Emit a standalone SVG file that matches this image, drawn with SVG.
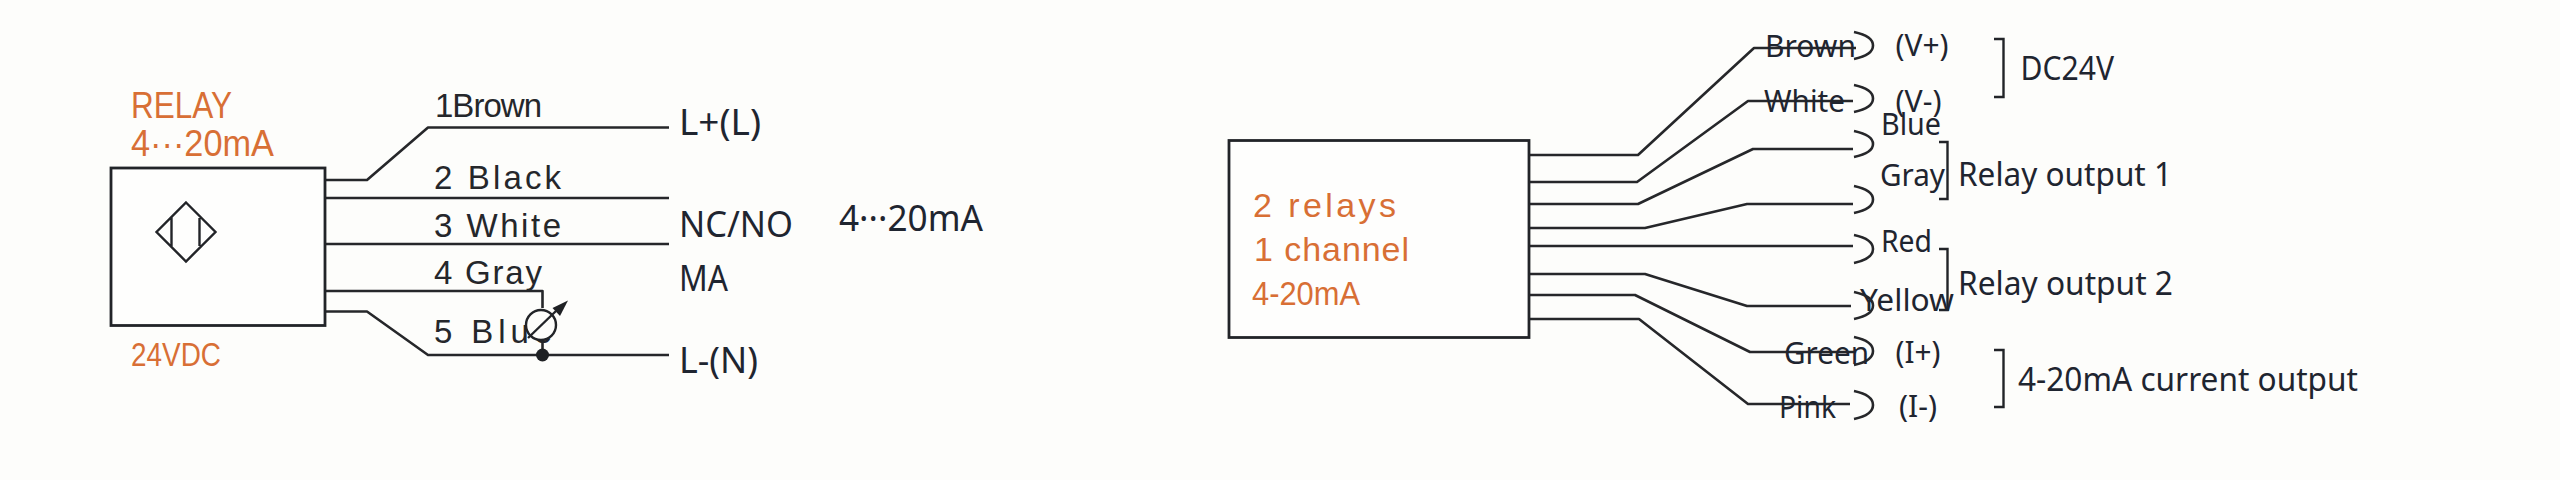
<svg xmlns="http://www.w3.org/2000/svg" width="2560" height="480" viewBox="0 0 2560 480">
<style>
.bg{fill:#fdfdfb}
.box{fill:#fefefd;stroke:#222428;stroke-width:2.8}
.w{fill:none;stroke:#26272a;stroke-width:2.6;stroke-linejoin:round}
.thin{fill:none;stroke:#222428;stroke-width:2.4}
text{font-family:"Noto Sans","Liberation Sans",sans-serif;fill:#1f2530}
.o{fill:#d86f35;font-family:"Liberation Sans",sans-serif}
.lbl{font-family:"Liberation Sans",sans-serif;font-size:33px;fill:#25272b}
.big{font-size:37px}
.r{font-size:30px}
.rr{font-size:32px}
</style>
<rect class="bg" width="2560" height="480"/>
<g id="connectors">
<path class="w" d="M325 180H367L428 127.500H669"/>
<path class="w" d="M325 198H669"/>
<path class="w" d="M325 244H669"/>
<path class="w" d="M325 291H542.500V308"/>
<path class="w" d="M325 311.500H367L428 355H669"/>
<path class="w" d="M542.500 340V355"/>
<path class="w" d="M1529 155H1638L1754 48H1856"/>
<path class="w" d="M1529 182H1637L1748 101H1853"/>
<path class="w" d="M1529 204H1638L1753 149H1853"/>
<path class="w" d="M1529 228H1645L1747 204H1853"/>
<path class="w" d="M1529 246H1853"/>
<path class="w" d="M1529 274H1645L1747 306H1851"/>
<path class="w" d="M1529 295H1635L1750 352H1854"/>
<path class="w" d="M1529 319H1639L1748 404H1850"/>
</g>
<g id="sensor">
<rect class="box" x="111" y="168" width="214" height="157.500"/>
<path class="thin" d="M186 202.500L215.500 232L186 261.500L156.500 232Z M171.500 217V247 M199.500 218V246"/>
<text class="o" x="131" y="118" font-size="37" textLength="101" lengthAdjust="spacingAndGlyphs">RELAY</text>
<text class="o" x="131" y="156" font-size="37" textLength="143" lengthAdjust="spacingAndGlyphs">4···20mA</text>
<text class="o" x="131" y="366" font-size="33" textLength="90" lengthAdjust="spacingAndGlyphs">24VDC</text>
</g>
<g id="wire-labels-left">
<text class="lbl" x="435" y="116.500" textLength="107">1Brown</text>
<text class="lbl" x="434" y="189" textLength="127">2 Black</text>
<text class="lbl" x="434" y="236.500" textLength="127">3 White</text>
<text class="lbl" x="434" y="284" textLength="108">4 Gray</text>
<text class="lbl" x="434" y="342.500" textLength="118">5 Blue</text>
</g>
<g id="meter">
<circle cx="541" cy="325" r="15" fill="#fdfdfb" stroke="#222428" stroke-width="2.4"/>
<path class="thin" d="M528 338L556 311"/>
<path d="M568 300.500L552.500 308L560 316Z" fill="#1f2124"/>
<circle cx="542.500" cy="355" r="6.500" fill="#1f2124"/>
</g>
<g id="terminals-left">
<text class="big" x="679" y="135" textLength="82" lengthAdjust="spacingAndGlyphs">L+(L)</text>
<text class="big" x="679" y="236.500" textLength="114" lengthAdjust="spacingAndGlyphs">NC/NO</text>
<text class="big" x="679" y="290.500" textLength="49" lengthAdjust="spacingAndGlyphs">MA</text>
<text class="big" x="679" y="372.500" textLength="79" lengthAdjust="spacingAndGlyphs">L-(N)</text>
<text class="big" x="839" y="230.500" textLength="144" lengthAdjust="spacingAndGlyphs">4···20mA</text>
</g>
<g id="module">
<rect class="box" x="1229" y="140.500" width="300" height="197"/>
<text class="o" x="1253" y="216.500" font-size="34" textLength="143">2 relays</text>
<text class="o" x="1254" y="260.500" font-size="34" textLength="155">1 channel</text>
<text class="o" x="1252" y="305" font-size="34" textLength="108" lengthAdjust="spacingAndGlyphs">4-20mA</text>
</g>
<g id="arcs">
<path class="w" d="M1854 32Q1873 36 1873 45.500T1854 59"/>
<path class="w" d="M1854 85Q1873 89 1873 98.500T1854 112"/>
<path class="w" d="M1854 131Q1873 135 1873 144T1854 157"/>
<path class="w" d="M1854 186Q1873 190 1873 199.500T1854 213"/>
<path class="w" d="M1854 235Q1873 239 1873 249T1854 263"/>
<path class="w" d="M1854 292Q1873 296 1873 305.500T1854 319"/>
<path class="w" d="M1854 337Q1873 341 1873 351T1854 365"/>
<path class="w" d="M1854 391Q1873 395 1873 405T1854 419"/>
</g>
<g id="brackets">
<path class="thin" d="M1994 39H2003.500V97H1994"/>
<path class="thin" d="M1939 142H1947.500V199H1939"/>
<path class="thin" d="M1939 249H1947.500V310H1939"/>
<path class="thin" d="M1994 350H2003.500V407H1994"/>
</g>
<g id="wire-labels-right">
<text class="r" x="1765" y="57" textLength="91" lengthAdjust="spacingAndGlyphs">Brown</text>
<text class="r" x="1764" y="111.500" textLength="81" lengthAdjust="spacingAndGlyphs">White</text>
<text class="r" x="1881" y="135" textLength="60" lengthAdjust="spacingAndGlyphs">Blue</text>
<text class="r" x="1880" y="186" textLength="65" lengthAdjust="spacingAndGlyphs">Gray</text>
<text class="r" x="1881" y="251.500" textLength="51" lengthAdjust="spacingAndGlyphs">Red</text>
<text class="r" x="1860" y="311" textLength="94" lengthAdjust="spacingAndGlyphs">Yellow</text>
<text class="r" x="1784" y="364" textLength="85" lengthAdjust="spacingAndGlyphs">Green</text>
<text class="r" x="1779" y="417.500" textLength="57" lengthAdjust="spacingAndGlyphs">Pink</text>
<text class="r" x="1895.500" y="56" textLength="53" lengthAdjust="spacingAndGlyphs">(V+)</text>
<text class="r" x="1895.500" y="112" textLength="46" lengthAdjust="spacingAndGlyphs">(V-)</text>
<text class="r" x="1895.500" y="363" textLength="45" lengthAdjust="spacingAndGlyphs">(I+)</text>
<text class="r" x="1899" y="416.500" textLength="38" lengthAdjust="spacingAndGlyphs">(I-)</text>
</g>
<g id="group-labels-right">
<text class="rr" x="2020.500" y="80" textLength="93.500" lengthAdjust="spacingAndGlyphs">DC24V</text>
<text class="rr" x="1958" y="185.500" textLength="214" lengthAdjust="spacingAndGlyphs">Relay output 1</text>
<text class="rr" x="1958" y="295" textLength="215" lengthAdjust="spacingAndGlyphs">Relay output 2</text>
<text class="rr" x="2018" y="391" textLength="340" lengthAdjust="spacingAndGlyphs">4-20mA current output</text>
</g>
</svg>
